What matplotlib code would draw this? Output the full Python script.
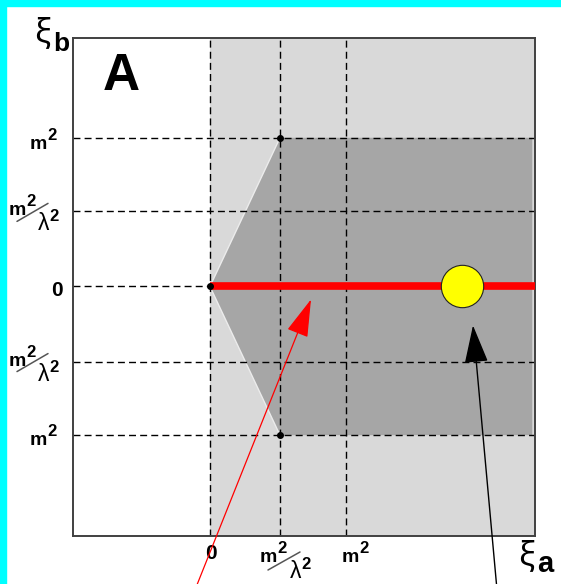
import matplotlib
matplotlib.use("Agg")
import matplotlib.pyplot as plt
from matplotlib.transforms import offset_copy

plt.rcParams['font.family'] = ['Liberation Sans', 'DejaVu Sans']

# positions in units of m^2, m^2/lambda^2
x_ticks = [0.0, 0.515, 1.0]
y_ticks = [1.0, 0.505, 0.0, -0.505, -1.0]
x_lim = (-1.007, 2.39)
y_lim = (-1.678, 1.671)
x_right = 2.37            # where the dark band stops
dot_x = [0.0, 0.515, 0.515]
dot_y = [0.0, 1.0, -1.0]
ball = (1.85, 0.0)
red_tip = (0.743, -0.087)
black_tip = (1.934, -0.262)

W, H = 561, 584
fig = plt.figure(figsize=(W / 100, H / 100), dpi=100)
ax = fig.add_axes([73 / W, 48 / H, 462 / W, 498 / H])
ax.set_xlim(*x_lim)
ax.set_ylim(*y_lim)
ax.set_xticks([])
ax.set_yticks([])
for s in ax.spines.values():
    s.set_color('#404040')
    s.set_linewidth(1.4)

# frame of the page
fig.patches.append(plt.Rectangle((0, 1 - 6 / H), 1, 6 / H, transform=fig.transFigure,
                                 color='#00ffff', zorder=0))
fig.patches.append(plt.Rectangle((0, 0), 6 / W, 1, transform=fig.transFigure,
                                 color='#00ffff', zorder=0))

# shaded regions
ax.axvspan(0, x_lim[1], color='#d9d9d9', lw=0, zorder=0)
k = x_ticks[1]
ax.fill([0, k, x_right, x_right, k], [0, 1, 1, -1, -1], color='#a6a6a6', lw=0, zorder=1)
ax.plot([k, 0, k], [1, 0, -1], color='#ececec', lw=1, zorder=1)

# dashed grid
for xv in x_ticks:
    ax.axvline(xv, color='black', lw=1, dashes=(5, 3), zorder=2)
for yv in y_ticks:
    ax.axhline(yv, color='black', lw=1, dashes=(5, 3), zorder=2)

ax.plot([0, x_lim[1]], [0, 0], color='red', lw=5.5, solid_capstyle='butt', zorder=3)
ax.plot(dot_x, dot_y, 'o', color='black', ms=4, zorder=4)
ax.plot(*ball, 'o', ms=30.5, mfc='yellow', mec='#222222', mew=0.8, zorder=5)

fig.text(121.5 / W, 1 - 76 / H, 'A', fontsize=37, fontweight='bold', ha='center', va='center')

# axis names
greek = ['Noto Sans', 'DejaVu Sans']
fig.text(42.5 / W, 1 - 33 / H, 'ξ', fontsize=24, ha='center', va='center', family=greek)
fig.text(61 / W, 1 - 44 / H, 'b', fontsize=19, fontweight='bold', ha='center', va='center')
fig.text(526 / W, 1 - 556 / H, 'ξ', fontsize=24, ha='center', va='center', family=greek)
fig.text(545 / W, 1 - 564 / H, 'a', fontsize=21, fontweight='bold', ha='center', va='center')

ytr = ax.get_yaxis_transform()
xtr = ax.get_xaxis_transform()


def put(s, xy, trans, dx, dy, size=14, ha='left', weight='bold'):
    ax.annotate(s, xy=xy, xycoords=trans, xytext=(dx, dy), textcoords='offset pixels',
                ha=ha, va='baseline', fontsize=size, fontweight=weight,
                annotation_clip=False)


def sq(base, xy, trans, dx, dy, gap, size=14, weight='bold'):
    # letter with a raised 2, e.g. m2
    put(base, xy, trans, dx, dy, size=size, weight=weight)
    put('2', xy, trans, dx + gap, dy + 9, size=12)


def frac(xy, trans, m_off, l_off, s0, s1):
    sq('m', xy, trans, *m_off, 17)
    sq('λ', xy, trans, *l_off, 11, size=16.5, weight='normal')
    start = offset_copy(trans, fig=fig, x=s0[0], y=s0[1], units='dots')
    ax.annotate('', xy=xy, xycoords=start, xytext=(s1[0] - s0[0], s1[1] - s0[1]),
                textcoords='offset pixels', annotation_clip=False,
                arrowprops=dict(arrowstyle='-', color='#555555', lw=1.1, shrinkA=0, shrinkB=0))


# y tick labels
sq('m', (0, y_ticks[0]), ytr, -43, -11, 17)
put('0', (0, y_ticks[2]), ytr, -10, -10, size=15, ha='right')
sq('m', (0, y_ticks[4]), ytr, -43, -10, 17)
for yv in (y_ticks[1], y_ticks[3]):
    frac((0, yv), ytr, (-64, -4), (-35, -19), (-56, -10), (-25, 8))

# x tick labels
put('0', (x_ticks[0], 0), xtr, 1, -23, size=15, ha='center')
frac((x_ticks[1], 0), xtr, (-20, -26), (10, -42), (-12, -34), (20, -16))
sq('m', (x_ticks[2], 0), xtr, -4, -26, 17)

# pointers
ax.annotate('', xy=red_tip, xytext=(195 / W, -0.01), textcoords='figure fraction',
            annotation_clip=False, zorder=6,
            arrowprops=dict(arrowstyle='-|>,head_length=2.4,head_width=0.7', mutation_scale=10,
                            color='red', lw=0.9, shrinkA=0, shrinkB=0))
ax.annotate('', xy=black_tip, xytext=(497 / W, -0.01), textcoords='figure fraction',
            annotation_clip=False, zorder=6,
            arrowprops=dict(arrowstyle='-|>,head_length=2.4,head_width=0.75', mutation_scale=10,
                            color='black', lw=1.0, shrinkA=0, shrinkB=0))

fig.savefig('out.png', dpi=100)
